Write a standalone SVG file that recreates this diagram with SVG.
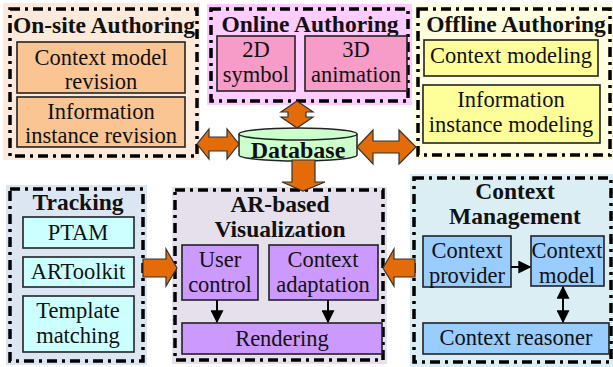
<svg xmlns="http://www.w3.org/2000/svg" width="613" height="367" viewBox="0 0 613 367">
  <style>
    text { font-family: "Liberation Serif", "Times New Roman", serif; fill: #111; text-anchor: middle; }
    .t { font-weight: bold; font-size: 23.5px; }
    .b { font-size: 22.5px; }
    .frame { fill: none; stroke: #000; stroke-width: 3.5; stroke-dasharray: 10 5 3 5; }
    .box { stroke: #222; stroke-width: 1.6; }
    .fat { fill: #e36c09; stroke: #333; stroke-width: 1.2; stroke-linejoin: miter; }
    .thin { stroke: #000; stroke-width: 2; fill: none; }
  </style>
  <defs>
    <marker id="tri" viewBox="0 0 10 10" refX="9" refY="5" markerWidth="6.5" markerHeight="6.5" orient="auto-start-reverse">
      <path d="M0,0 L10,5 L0,10 z" fill="#000"/>
    </marker>
  </defs>

  <!-- On-site Authoring -->
  <g id="onsite">
    <rect x="3" y="3" width="197" height="157" fill="#fdeada"/>
    <rect x="10" y="9" width="187" height="147" class="frame"/>
    <text class="t" x="104" y="33">On-site Authoring</text>
    <rect class="box" x="17" y="42" width="168" height="51" fill="#fbc593"/>
    <text class="b" x="101" y="65">Context model</text>
    <text class="b" x="101" y="89">revision</text>
    <rect class="box" x="17" y="97" width="168" height="50" fill="#fbc593"/>
    <text class="b" x="101" y="119">Information</text>
    <text class="b" x="101" y="143">instance revision</text>
  </g>

  <!-- Online Authoring -->
  <g id="online">
    <rect x="207" y="4" width="205" height="101" fill="#ffccff"/>
    <rect x="211" y="9" width="197" height="92" class="frame"/>
    <text class="t" x="310" y="32">Online Authoring</text>
    <rect class="box" x="217" y="36" width="78" height="55" fill="#f79bc8"/>
    <text class="b" x="256" y="57">2D</text>
    <text class="b" x="256" y="82">symbol</text>
    <rect class="box" x="305" y="36" width="102" height="55" fill="#f79bc8"/>
    <text class="b" x="356" y="57">3D</text>
    <text class="b" x="356" y="82">animation</text>
  </g>

  <!-- Offline Authoring -->
  <g id="offline">
    <rect x="414" y="4" width="199" height="156" fill="#ffffe0"/>
    <rect x="418" y="9" width="192" height="146" class="frame"/>
    <text class="t" x="516" y="32">Offline Authoring</text>
    <rect class="box" x="424" y="40" width="174" height="36" fill="#ffff99"/>
    <text class="b" x="511" y="63">Context modeling</text>
    <rect class="box" x="423" y="85" width="177" height="58" fill="#ffff99"/>
    <text class="b" x="511" y="107">Information</text>
    <text class="b" x="511" y="132">instance modeling</text>
  </g>

  <!-- Database -->
  <g id="database">
    <path d="M239,134 L239,155 A59,6 0 0 0 357,155 L357,134" fill="#ccffcc" stroke="#222" stroke-width="1.5"/>
    <ellipse cx="298" cy="134" rx="59" ry="6" fill="#ccffcc" stroke="#222" stroke-width="1.5"/>
    <text class="t" x="298" y="158" style="font-size:24px">Database</text>
  </g>

  <!-- Tracking -->
  <g id="tracking">
    <rect x="6" y="185" width="141" height="180" fill="#dce6f2"/>
    <rect x="10" y="189" width="133" height="172" class="frame"/>
    <text class="t" x="78" y="210">Tracking</text>
    <rect class="box" x="23" y="217" width="111" height="31" fill="#ccffff"/>
    <text class="b" x="78" y="240">PTAM</text>
    <rect class="box" x="23" y="257" width="111" height="30" fill="#ccffff"/>
    <text class="b" x="78" y="279">ARToolkit</text>
    <rect class="box" x="23" y="296" width="111" height="56" fill="#ccffff"/>
    <text class="b" x="78" y="318">Template</text>
    <text class="b" x="78" y="343">matching</text>
  </g>

  <!-- AR-based Visualization -->
  <g id="arvis">
    <rect x="172" y="187" width="215" height="177" fill="#e5e0ec"/>
    <rect x="175" y="190" width="208" height="170" class="frame"/>
    <text class="t" x="280" y="212">AR-based</text>
    <text class="t" x="280" y="237">Visualization</text>
    <rect class="box" x="182" y="245" width="76" height="55" fill="#cc99ff"/>
    <text class="b" x="220" y="267">User</text>
    <text class="b" x="220" y="292">control</text>
    <rect class="box" x="269" y="245" width="109" height="55" fill="#cc99ff"/>
    <text class="b" x="323" y="267">Context</text>
    <text class="b" x="323" y="292">adaptation</text>
    <rect class="box" x="182" y="323" width="200" height="31" fill="#cc99ff"/>
    <text class="b" x="282" y="346">Rendering</text>
  </g>

  <!-- Context Management -->
  <g id="ctxmgmt">
    <rect x="410" y="174" width="203" height="193" fill="#dbeef4"/>
    <rect x="414" y="178" width="197" height="184" class="frame"/>
    <text class="t" x="515" y="199">Context</text>
    <text class="t" x="515" y="224">Management</text>
    <rect class="box" x="423" y="236" width="88" height="51" fill="#99ccff"/>
    <text class="b" x="467" y="258">Context</text>
    <text class="b" x="467" y="283">provider</text>
    <rect class="box" x="531" y="236" width="73" height="50" fill="#99ccff"/>
    <text class="b" x="567" y="258">Context</text>
    <text class="b" x="567" y="283">model</text>
    <rect class="box" x="423" y="323" width="186" height="31" fill="#99ccff"/>
    <text class="b" x="516" y="345">Context reasoner</text>
  </g>

  <!-- Connectors -->
  <g id="connectors">
    <!-- Online Authoring <-> Database -->
    <path class="fat" d="M297,101 L313,112 L306,112 L306,117 L313,117 L297,128 L281,117 L288,117 L288,112 L281,112 Z"/>
    <!-- On-site Authoring <-> Database -->
    <path class="fat" d="M197,144 L209,129 L209,137 L227,137 L227,129 L239,144 L227,159 L227,151 L209,151 L209,159 Z"/>
    <!-- Database <-> Offline Authoring -->
    <path class="fat" d="M357,147 L373,130 L373,141 L399,141 L399,130 L416,147 L399,164 L399,153 L373,153 L373,164 Z"/>
    <!-- Database -> AR-based Visualization -->
    <path class="fat" d="M292,160 L315,160 L315,182 L325,182 L303,191 L282,182 L292,182 Z"/>
    <!-- Tracking -> AR-based Visualization -->
    <path class="fat" d="M143,259 L166,259 L166,249 L177,268 L166,286 L166,277 L143,277 Z"/>
    <!-- Context Management -> AR-based Visualization -->
    <path class="fat" d="M415,259 L394,259 L394,249 L383,268 L394,286 L394,277 L415,277 Z"/>
    <!-- internal links -->
    <line class="thin" x1="217" y1="300" x2="217" y2="322" marker-end="url(#tri)"/>
    <line class="thin" x1="328" y1="300" x2="328" y2="322" marker-end="url(#tri)"/>
    <line class="thin" x1="511" y1="267" x2="530" y2="267" marker-end="url(#tri)"/>
    <line class="thin" x1="563" y1="287" x2="563" y2="322" marker-start="url(#tri)" marker-end="url(#tri)"/>
  </g>
</svg>
